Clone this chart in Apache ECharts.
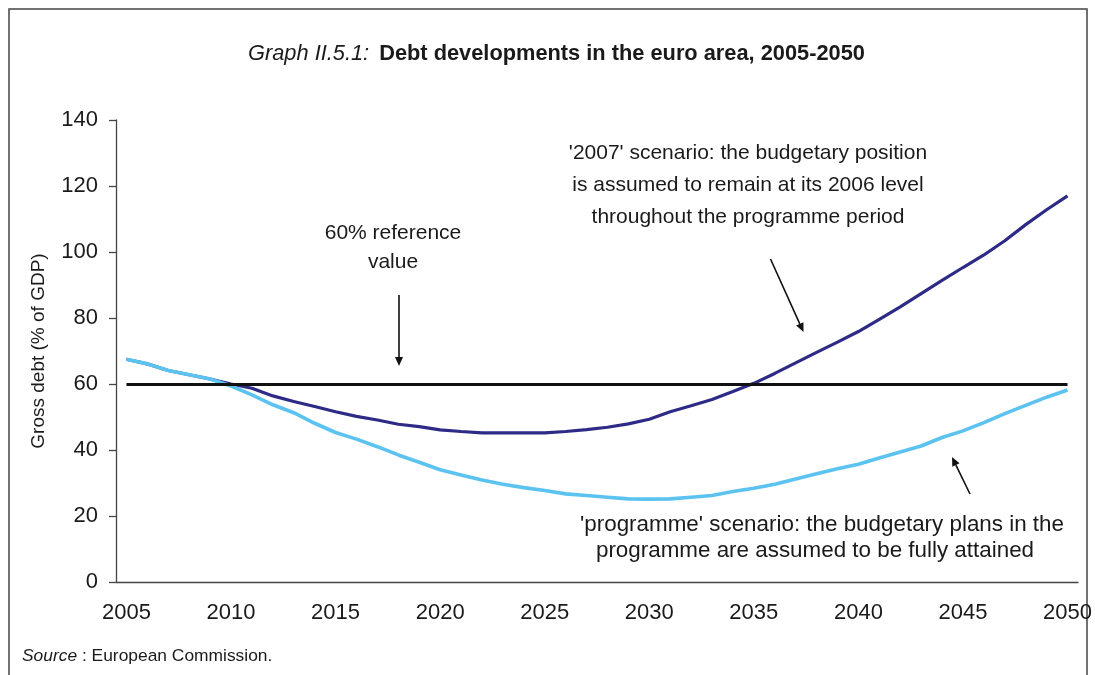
<!DOCTYPE html>
<html>
<head>
<meta charset="utf-8">
<script src="https://cdn.jsdelivr.net/npm/echarts@6/dist/echarts.min.js"></script>
<style>
html,body{margin:0;padding:0;background:#fff;}
#chart{width:1095px;height:675px;}
</style>
</head>
<body>
<div id="chart"></div>
<script>
// ---- data ----
var years = ['2005','2006','2007','2008','2009','2010','2011','2012','2013','2014',
             '2015','2016','2017','2018','2019','2020','2021','2022','2023','2024',
             '2025','2026','2027','2028','2029','2030','2031','2032','2033','2034',
             '2035','2036','2037','2038','2039','2040','2041','2042','2043','2044',
             '2045','2046','2047','2048','2049','2050'];
var scenario2007 = [67.5, 66.1, 64.1, 62.8, 61.5,
                    60.0, 58.7, 56.4, 54.7, 53.2,
                    51.6, 50.2, 49.1, 47.8, 47.1,
                    46.1, 45.6, 45.2, 45.2, 45.2,
                    45.2, 45.6, 46.2, 46.9, 47.9,
                    49.3, 51.6, 53.4, 55.3, 57.7,
                    60.2, 63.2, 66.4, 69.6, 72.7,
                    75.9, 79.6, 83.4, 87.4, 91.4,
                    95.3, 99.1, 103.4, 108.3, 112.8,
                    117.0];
var scenarioProgramme = [67.5, 66.1, 64.1, 62.8, 61.5,
                         59.4, 56.7, 53.7, 51.3, 48.1,
                         45.3, 43.3, 41.0, 38.5, 36.3,
                         34.0, 32.4, 30.9, 29.6, 28.6,
                         27.7, 26.7, 26.2, 25.7, 25.2,
                         25.1, 25.2, 25.7, 26.2, 27.4,
                         28.4, 29.6, 31.2, 32.8, 34.3,
                         35.7, 37.6, 39.4, 41.2, 43.8,
                         45.8, 48.3, 51.0, 53.5, 56.0,
                         58.2];
var referenceValue = 60;
var yTicks = [0, 20, 40, 60, 80, 100, 120, 140];

var FONT = "'Liberation Sans', Arial, Helvetica, sans-serif";
var TXT = '#1a1a1a';

function arrow(x1, y1, x2, y2) {
  var dx = x2 - x1, dy = y2 - y1, len = Math.sqrt(dx*dx + dy*dy);
  var ux = dx/len, uy = dy/len, hl = 9, hw = 4;
  var bx = x2 - ux*hl, by = y2 - uy*hl;
  return [
    {type:'line', silent:true, shape:{x1:x1, y1:y1, x2:bx, y2:by}, style:{stroke:'#111', lineWidth:1.6}},
    {type:'polygon', silent:true, shape:{points:[[x2,y2],[bx - uy*hw, by + ux*hw],[bx + uy*hw, by - ux*hw]]}, style:{fill:'#111'}}
  ];
}
function label(text, x, y, size) {
  return {type:'text', silent:true, style:{text:text, x:x, y:y, textAlign:'center', textVerticalAlign:'middle',
          font:size + 'px ' + FONT, fill:TXT}};
}

var graphics = [
  {type:'rect', silent:true, shape:{x:9, y:9, width:1078, height:720}, style:{fill:'none', stroke:'#444', lineWidth:1.5}},
  label("'2007' scenario: the budgetary position", 748, 153, 21),
  label("is assumed to remain at its 2006 level", 748, 185, 21),
  label("throughout the programme period", 748, 217, 21),
  label("60% reference", 393, 233, 21),
  label("value", 393, 262, 21),
  label("'programme' scenario: the budgetary plans in the", 822, 525, 22.4),
  label("programme are assumed to be fully attained", 815, 551, 22.4),
  {type:'text', silent:true, style:{
     text:'{i|Source} : European Commission.', x:22, y:656, textVerticalAlign:'middle',
     font:'17.4px ' + FONT, fill:TXT,
     rich:{i:{fontStyle:'italic', fontSize:17.4, fontFamily:FONT, fill:TXT}}
  }}
].concat(arrow(399, 295, 399, 366))
 .concat(arrow(770.5, 259, 803.5, 332))
 .concat(arrow(970, 494, 952, 457));

var chart = echarts.init(document.getElementById('chart'), null, {renderer:'canvas'});
chart.setOption({
  backgroundColor:'#fff',
  animation:false,
  title:{
    text:'{i|Graph II.5.1:}  {b|Debt developments in the euro area, 2005-2050}',
    left:248, top:43, padding:0,
    textStyle:{
      rich:{
        i:{fontStyle:'italic', fontWeight:'normal', fontSize:21.8, fontFamily:FONT, color:TXT},
        b:{fontWeight:'bold', fontSize:21.8, fontFamily:FONT, color:TXT}
      }
    }
  },
  grid:{left:116, right:17, top:120, bottom:93, containLabel:false},
  xAxis:{
    type:'category', data:years, boundaryGap:true,
    axisLine:{lineStyle:{color:'#444', width:1.3}},
    axisTick:{interval:4, length:5, lineStyle:{color:'#444', width:1.3}},
    axisLabel:{interval:4, margin:20, fontSize:22, fontFamily:FONT, color:TXT},
    splitLine:{show:false}
  },
  yAxis:{
    type:'value', min:yTicks[0], max:yTicks[yTicks.length-1], interval:20,
    name:'Gross debt (% of GDP)', nameLocation:'middle', nameGap:68,
    nameTextStyle:{fontSize:19, fontFamily:FONT, color:TXT},
    axisLine:{show:true, lineStyle:{color:'#444', width:1.3}},
    axisTick:{show:true, length:7, lineStyle:{color:'#444', width:1.3}},
    axisLabel:{margin:18, fontSize:22, fontFamily:FONT, color:TXT},
    splitLine:{show:false}
  },
  series:[
    {
      name:'reference', type:'line', data:[], z:1, silent:true,
      markLine:{
        silent:true, symbol:['none','none'], label:{show:false},
        lineStyle:{color:'#111', width:3, type:'solid'},
        data:[[{coord:[years[0], referenceValue]},{coord:[years[years.length-1], referenceValue]}]]
      }
    },
    {
      name:"'2007' scenario", type:'line', data:scenario2007, z:3,
      symbol:'none', smooth:false,
      lineStyle:{color:'#2e2b86', width:3.2}
    },
    {
      name:"'programme' scenario", type:'line', data:scenarioProgramme, z:4,
      symbol:'none', smooth:false,
      lineStyle:{color:'#5cc3f0', width:3.6}
    }
  ],
  graphic:graphics
});
</script>
</body>
</html>
